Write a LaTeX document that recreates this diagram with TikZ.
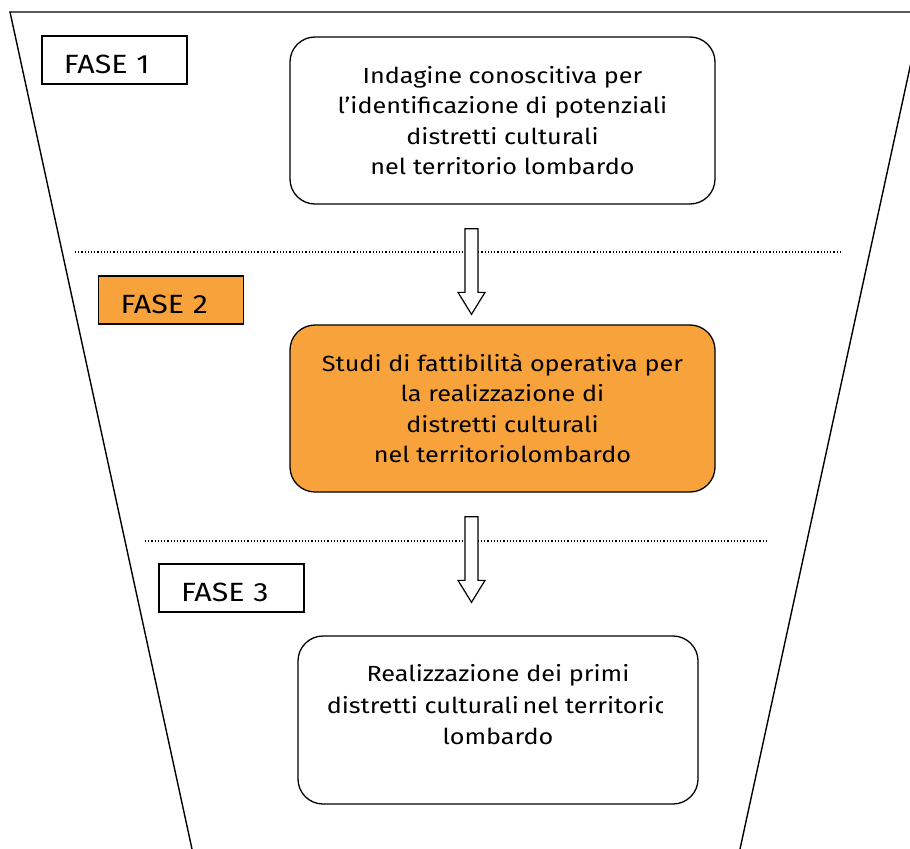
\documentclass[tikz,border=0pt]{standalone}
\usepackage{fontspec}
\setmainfont{Fira Sans}[FakeStretch=1.15]
\usetikzlibrary{positioning,calc}
\definecolor{fasecolor}{RGB}{248,162,59}

% hollow down arrow between a top point and a tip point
\newcommand{\hollowarrow}[2]{%
  \draw[hollow] let \p1=(#1), \p2=(#2) in
    (\x1-6.5bp,\y1) -- (\x1+6.5bp,\y1) -- (\x1+6.5bp,\y2+22bp) -- (\x1+13.5bp,\y2+22bp)
    -- (\x2,\y2) -- (\x1-13.5bp,\y2+22bp) -- (\x1-6.5bp,\y2+22bp) -- cycle;}

\begin{document}
\begin{tikzpicture}[
  x=1bp, y=-1bp,
  phase/.style={rectangle, draw, line width=1.2bp, minimum width=145bp, minimum height=48bp, inner xsep=22bp, text width=101bp, align=left, text height=27bp, text depth=0bp, font=\fontsize{26.5}{30}\selectfont},
  stage/.style={rectangle, draw, line width=1.3bp, rounded corners=25bp, minimum width=425bp, minimum height=167bp, align=center, font=\fontsize{22}{30.5}\selectfont},
  hollow/.style={draw, line width=1.2bp, fill=white},
  sep/.style={line width=1.3bp, dash pattern=on 1.2bp off 2bp},
  funnel/.style={line width=1.4bp},
]
\useasboundingbox (0,0) rectangle (910,849);
\clip (0,0) rectangle (910,849);

% === Funnel outline ===
\draw[funnel] (192,849) -- (10,12) -- (922,12) -- (740,849);

% === Phase separators ===
\draw[sep] (75,252) -- (840,252);
\draw[sep] (145,541) -- (768,541);

% === Phase labels ===
\node[phase] (fase1) at (114.5,60) {FASE 1};
\node[phase, fill=fasecolor] (fase2) at (171,300) {FASE 2};
\node[phase] (fase3) at (231.5,588) {FASE 3};

% === Stages ===
\node[stage] (indagine) at (502.5,120.5) {Indagine conoscitiva per\\l’identificazione di potenziali\\distretti culturali\\nel territorio lombardo};
\node[stage, fill=fasecolor] (studi) at (502.5,408.5) {Studi di fattibilità operativa per\\la realizzazione di\\distretti culturali\\nel territoriolombardo};
\node[stage, minimum width=400bp, minimum height=168bp] (realizz) at (498,720) {};
\begin{scope}
  \clip (realizz.north west) rectangle ($(realizz.south east)+(-36,0)$);
  \node[font=\fontsize{22}{31.5}\selectfont, align=center, anchor=north, inner sep=0pt] (realizztext) at ($(realizz.north)+(0,29)$) {Realizzazione dei primi\\distretti culturali\,nel territorio\\lombardo};
\end{scope}

% === Flow arrows ===
\coordinate (a1top) at ($(indagine.south)+(-31,24)$);
\coordinate (a1tip) at ($(studi.north)+(-31,-10)$);
\coordinate (a2top) at ($(studi.south)+(-31,24)$);
\coordinate (a2tip) at ($(realizz.north)+(-26.5,-33)$);
\hollowarrow{a1top}{a1tip}
\hollowarrow{a2top}{a2tip}

\end{tikzpicture}
\end{document}
